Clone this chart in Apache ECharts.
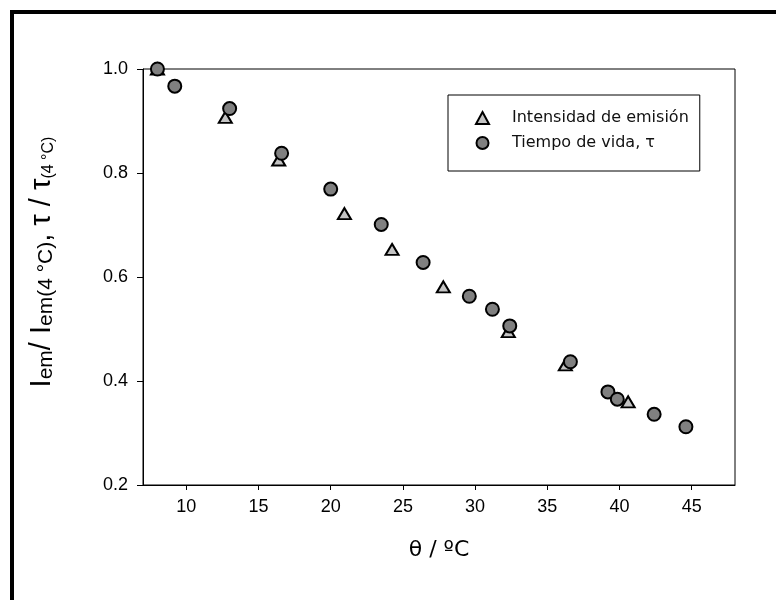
<!DOCTYPE html>
<html>
<head>
<meta charset="utf-8">
<script src="https://cdn.jsdelivr.net/npm/echarts@6/dist/echarts.min.js"></script>
<style>
html,body{margin:0;padding:0;background:#fff;}
#chart{width:776px;height:600px;}
</style>
</head>
<body>
<div id="chart"></div>
<script>
// Data
const intensityX = [8.0, 12.7, 16.4, 20.95, 24.25, 27.8, 32.3, 36.25, 40.6];
const intensityY = [1.0, 0.907, 0.825, 0.722, 0.653, 0.581, 0.495, 0.431, 0.360];
const lifetimeX = [8.0, 9.2, 13.0, 16.6, 20.0, 23.5, 26.4, 29.6, 31.2, 32.4, 36.6, 39.2, 39.85, 42.4, 44.6];
const lifetimeY = [1.0, 0.967, 0.924, 0.838, 0.769, 0.701, 0.628, 0.563, 0.538, 0.506, 0.437, 0.379, 0.365, 0.336, 0.312];
const xTicks = [10, 15, 20, 25, 30, 35, 40, 45];
const yTicks = [0.2, 0.4, 0.6, 0.8, 1.0];
const seriesNames = ['Intensidad de emisión', 'Tiempo de vida, τ'];

const zip = (xs, ys) => xs.map((x, i) => [x, ys[i]]);

const chart = echarts.init(document.getElementById('chart'), null, {renderer: 'canvas'});
chart.setOption({
  animation: false,
  backgroundColor: '#fff',
  graphic: [{
    type: 'rect',
    shape: {x: 12, y: 12, width: 900, height: 800},
    style: {fill: 'none', stroke: '#000', lineWidth: 4},
    silent: true
  }],
  grid: {left: 143, right: 41, top: 69, bottom: 115, show: true, borderColor: '#000', borderWidth: 1, backgroundColor: 'transparent'},
  legend: {
    orient: 'vertical',
    left: 448, top: 95,
    padding: [14, 11, 19, 27],
    borderColor: '#000', borderWidth: 1,
    itemWidth: 13, itemHeight: 12, itemGap: 7,
    textStyle: {fontFamily: 'DejaVu Sans', fontSize: 16, lineHeight: 18, color: '#111', padding: [0, 0, 0, 18]},
    data: seriesNames
  },
  xAxis: {
    type: 'value', min: 7, max: 48,
    name: 'θ / ºC', nameLocation: 'middle', nameGap: 54,
    nameTextStyle: {fontFamily: 'DejaVu Sans', fontSize: 22, color: '#000'},
    axisLine: {show: true, lineStyle: {color: '#000', width: 1}},
    axisTick: {show: true, customValues: xTicks, length: 5, lineStyle: {color: '#000'}},
    axisLabel: {customValues: xTicks, margin: 13, fontFamily: 'Liberation Sans', fontSize: 18, color: '#000'},
    splitLine: {show: false}
  },
  yAxis: {
    type: 'value', min: 0.2, max: 1.0,
    name: '{m|I}{s|em}{m|/ I}{s|em(4 °C)}{m|, τ / τ}{t|(4 °C)}',
    nameLocation: 'middle', nameGap: 86, nameRotate: 90,
    nameTextStyle: {
      padding: [0, 0, 0, 30],
      rich: {
        m: {fontFamily: 'Liberation Sans', fontSize: 29, color: '#000', lineHeight: 30, verticalAlign: 'top'},
        s: {fontFamily: 'Liberation Sans', fontSize: 21, color: '#000', lineHeight: 22, verticalAlign: 'bottom', padding: [12, 0, 0, 0]},
        t: {fontFamily: 'Liberation Sans', fontSize: 16, color: '#000', lineHeight: 18, verticalAlign: 'bottom', padding: [14, 0, 0, 0]}
      }
    },
    axisLine: {show: true, lineStyle: {color: '#000', width: 1}},
    axisTick: {show: true, customValues: yTicks, length: 6, lineStyle: {color: '#000'}},
    axisLabel: {customValues: yTicks, margin: 15, fontFamily: 'Liberation Sans', fontSize: 18, color: '#000',
      formatter: v => Number(v).toFixed(1)},
    splitLine: {show: false}
  },
  series: [{
    name: seriesNames[0],
    type: 'scatter',
    symbol: 'triangle',
    symbolSize: [13, 11],
    itemStyle: {color: '#c4c4c4', borderColor: '#000', borderWidth: 2, opacity: 1},
    data: zip(intensityX, intensityY)
  }, {
    name: seriesNames[1],
    type: 'scatter',
    symbol: 'circle',
    symbolSize: 13,
    itemStyle: {color: '#808080', borderColor: '#000', borderWidth: 2, opacity: 1},
    data: zip(lifetimeX, lifetimeY)
  }]
});
</script>
</body>
</html>
